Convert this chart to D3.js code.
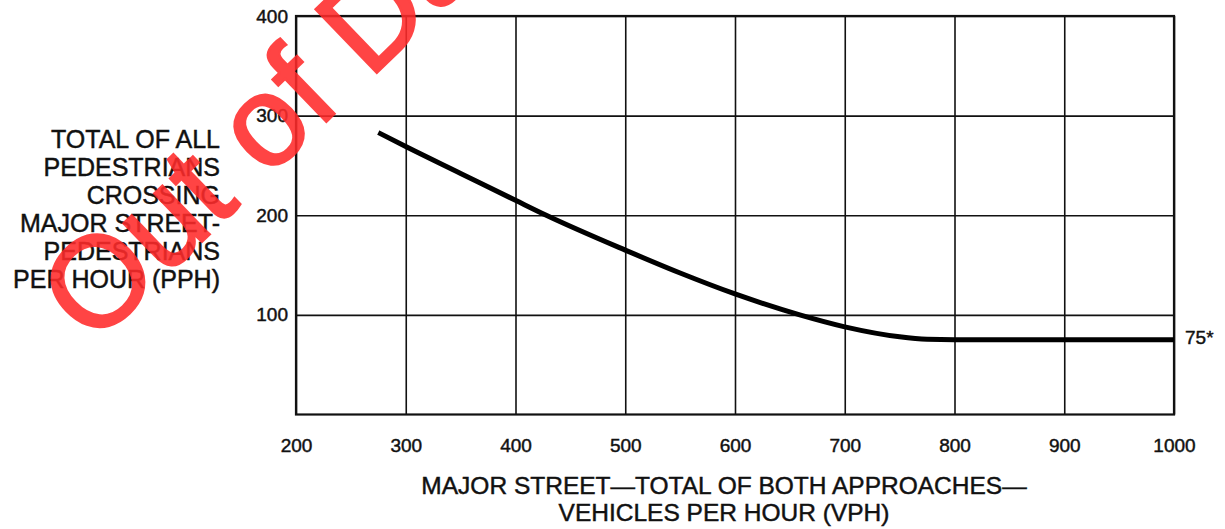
<!DOCTYPE html>
<html>
<head>
<meta charset="utf-8">
<script src="https://cdn.jsdelivr.net/npm/d3@7"></script>
<style>
  html, body { margin: 0; padding: 0; background: #fff; }
  svg { display: block; font-family: "Liberation Sans", Arial, Helvetica, sans-serif; }
  .ink { stroke: #111; stroke-width: 0.45px; }
</style>
</head>
<body>
<svg id="chart" width="1225" height="529"></svg>
<script>
// Pedestrian volume curve: vehicles per hour (major street) vs pedestrians per hour
const vph = [275, 300, 350, 400, 428, 500, 550, 600, 659, 700, 750, 775, 800, 900, 1000];
const pph = [283, 269, 242, 215, 200, 165, 142, 121, 100, 88, 78, 75.5, 75, 75, 75];

const xTicks = [200, 300, 400, 500, 600, 700, 800, 900, 1000];
const yTicks = [100, 200, 300, 400];

const yTitle = ["TOTAL OF ALL", "PEDESTRIANS", "CROSSING", "MAJOR STREET-", "PEDESTRIANS", "PER HOUR (PPH)"];
const xTitle = ["MAJOR STREET\u2014TOTAL OF BOTH APPROACHES\u2014", "VEHICLES PER HOUR (VPH)"];
const floorLabel = "75*";
const stamp = "Out of Date";

const svg = d3.select("#chart");

const x = d3.scaleLinear().domain([200, 1000]).range([296, 1174]);
const y = d3.scaleLinear().domain([0, 400]).range([414.5, 16]);

const plotL = x(200), plotR = x(1000), plotT = y(400), plotB = y(0);
const plotW = plotR - plotL, plotH = plotB - plotT;

// vertical grid + x labels
const gx = svg.append("g")
  .attr("transform", `translate(0,${plotB})`)
  .call(d3.axisBottom(x).tickValues(xTicks).tickSize(-plotH).tickPadding(24).tickFormat(d3.format("d")));
gx.select(".domain").remove();
gx.selectAll(".tick line").attr("stroke", "#111").attr("stroke-width", 1.6);
gx.selectAll(".tick text").attr("class", "ink").attr("fill", "#111").attr("font-size", 19)
  .attr("font-family", "Liberation Sans, Arial, sans-serif");

// horizontal grid + y labels
const gy = svg.append("g")
  .attr("transform", `translate(${plotL},0)`)
  .call(d3.axisLeft(y).tickValues(yTicks).tickSize(-plotW).tickPadding(8).tickFormat(d3.format("d")));
gy.select(".domain").remove();
gy.selectAll(".tick line").attr("stroke", "#111").attr("stroke-width", 1.6);
gy.selectAll(".tick text").attr("class", "ink").attr("fill", "#111").attr("font-size", 19)
  .attr("font-family", "Liberation Sans, Arial, sans-serif");

// frame
svg.append("rect")
  .attr("x", plotL).attr("y", plotT).attr("width", plotW).attr("height", plotH)
  .attr("fill", "none").attr("stroke", "#111").attr("stroke-width", 2.2);

// curve
const pts = vph.map((v, i) => [v, pph[i]]);
svg.append("path")
  .datum(pts)
  .attr("fill", "none")
  .attr("stroke", "#000")
  .attr("stroke-width", 5)
  .attr("d", d3.line().x(d => x(d[0])).y(d => y(d[1])).curve(d3.curveMonotoneX));

// floor value label at right end
svg.append("text")
  .attr("class", "ink")
  .attr("x", plotR + 11).attr("y", y(pph[pph.length - 1]) + 4)
  .attr("font-size", 19).attr("fill", "#111")
  .text(floorLabel);

// y-axis title
svg.append("g").selectAll("text")
  .data(yTitle).join("text")
  .attr("class", "ink")
  .attr("x", 220)
  .attr("y", (d, i) => 148 + i * 28)
  .attr("text-anchor", "end")
  .attr("font-size", 25)
  .attr("fill", "#111")
  .text(d => d);

// x-axis title
svg.append("g").selectAll("text")
  .data(xTitle).join("text")
  .attr("class", "ink")
  .attr("x", 724)
  .attr("y", (d, i) => 494 + i * 27)
  .attr("text-anchor", "middle")
  .attr("font-size", 24.5)
  .attr("fill", "#111")
  .text(d => d);

// red stamp across the upper left
svg.append("text")
  .attr("transform", "translate(93,347) rotate(-44)")
  .attr("font-size", 128)
  .attr("fill", "#ff2b2b")
  .attr("stroke", "#ff2b2b")
  .attr("stroke-width", 2.5)
  .attr("opacity", 0.88)
  .text(stamp);
</script>
</body>
</html>
